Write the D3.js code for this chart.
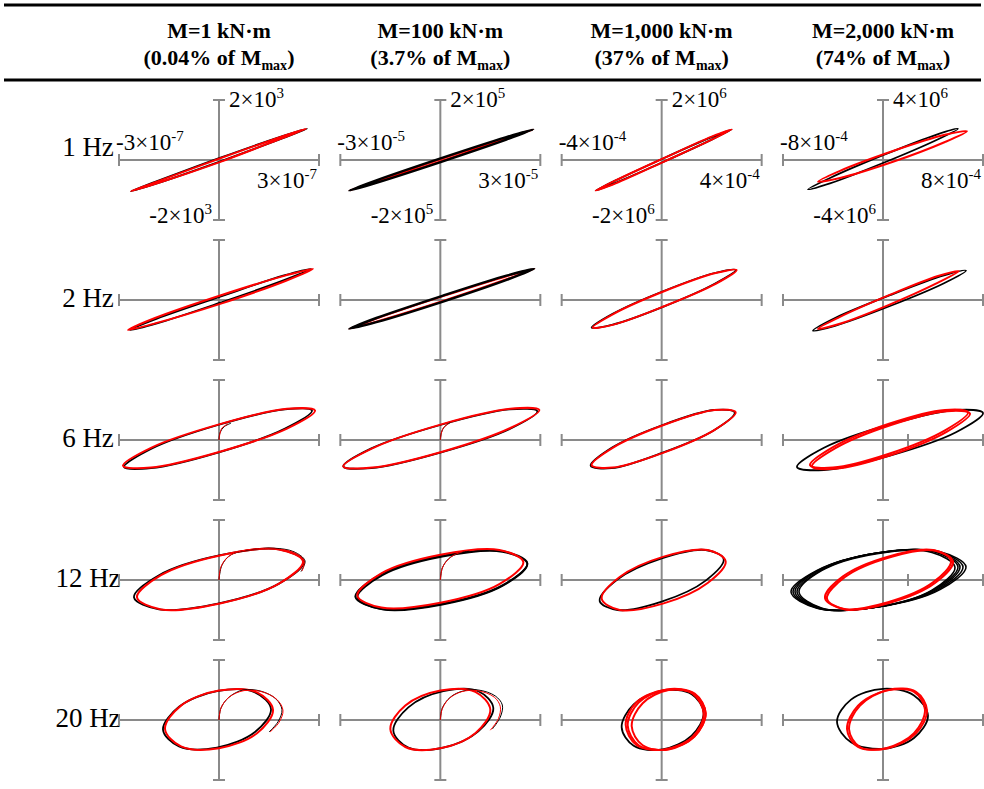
<!DOCTYPE html>
<html>
<head>
<meta charset="utf-8">
<script src="https://cdn.jsdelivr.net/npm/d3@7"></script>
<style>
  body { margin: 0; background: #fff; }
  svg { display: block; }
  text { font-family: "Liberation Serif", "Times New Roman", serif; }
</style>
</head>
<body>
<div id="chart"></div>
<script>
// column / row headers
const moments = ["M=1 kN·m", "M=100 kN·m", "M=1,000 kN·m", "M=2,000 kN·m"];
const shares = ["0.04%", "3.7%", "37%", "74%"];
const freqs = ["1 Hz", "2 Hz", "6 Hz", "12 Hz", "20 Hz"];

// axis limit labels (first row only)
const xTickMant = [3, 3, 4, 8], xTickExp = [-7, -5, -4, -4];
const yTickMant = [2, 2, 2, 4], yTickExp = [3, 5, 6, 6];

// extra tick on the strain axis, [row, col, x/xmax]
const extraTicks = [[2, 3, 0.25], [3, 3, 0.25]];

// loops, in units of the axis limits: [x/xmax, y/ymax]
// blackLoops[row][col] = list of closed loops
const blackLoops = [
  [ // 1 Hz
    [[[0,0.03],[0.62,0.39],[0.88,0.52],[0.62,0.35],[0,-0.03],[-0.62,-0.39],[-0.88,-0.52],[-0.62,-0.35]]],
    [[[0.01,0.03],[0.66,0.38],[0.93,0.51],[0.66,0.34],[0.01,-0.03],[-0.64,-0.38],[-0.91,-0.51],[-0.64,-0.34]]],
    [[[0.02,0.03],[0.5,0.38],[0.7,0.51],[0.5,0.34],[0.02,-0.03],[-0.46,-0.38],[-0.66,-0.51],[-0.46,-0.34]]],
    [[[0,0.08],[0.53,0.42],[0.75,0.52],[0.53,0.33],[0,-0.05],[-0.53,-0.39],[-0.75,-0.49],[-0.53,-0.3]]]
  ],
  [ // 2 Hz
    [[[0.02,0.06],[0.65,0.41],[0.92,0.52],[0.65,0.33],[0.02,-0.04],[-0.62,-0.39],[-0.89,-0.5],[-0.62,-0.31]]],
    [[[0.02,0.07],[0.67,0.41],[0.94,0.52],[0.67,0.34],[0.02,-0.03],[-0.64,-0.37],[-0.91,-0.48],[-0.64,-0.3]]],
    [[[0.02,0.15],[0.53,0.45],[0.74,0.5],[0.53,0.27],[0.02,-0.11],[-0.49,-0.41],[-0.7,-0.46],[-0.49,-0.23]]],
    [[[0.07,0.08],[0.61,0.41],[0.83,0.49],[0.61,0.28],[0.07,-0.1],[-0.48,-0.43],[-0.7,-0.51],[-0.48,-0.3]]]
  ],
  [ // 6 Hz
    [[[-0.01,0.25],[0.66,0.51],[0.93,0.49],[0.66,0.19],[-0.01,-0.21],[-0.68,-0.47],[-0.95,-0.45],[-0.68,-0.15]]],
    [[[0,0.25],[0.69,0.51],[0.97,0.48],[0.69,0.18],[0,-0.21],[-0.69,-0.47],[-0.97,-0.44],[-0.69,-0.14]]],
    [[[0.01,0.25],[0.52,0.5],[0.73,0.46],[0.52,0.16],[0.01,-0.21],[-0.5,-0.47],[-0.71,-0.43],[-0.5,-0.13]]],
    [[[0.07,0.26],[0.73,0.5],[1,0.45],[0.73,0.13],[0.07,-0.26],[-0.59,-0.5],[-0.86,-0.45],[-0.59,-0.13]]]
  ],
  [ // 12 Hz
    [[[0,0.41],[0.6,0.51],[0.85,0.31],[0.6,-0.06],[0,-0.39],[-0.6,-0.49],[-0.85,-0.29],[-0.6,0.08]]],
    [[[0.01,0.4],[0.62,0.48],[0.87,0.28],[0.62,-0.09],[0.01,-0.4],[-0.6,-0.48],[-0.85,-0.28],[-0.6,0.09]],
     [[0.02,0.39],[0.62,0.47],[0.87,0.27],[0.62,-0.1],[0.02,-0.41],[-0.58,-0.49],[-0.83,-0.29],[-0.58,0.08]]],
    [[[0,0.36],[0.44,0.5],[0.62,0.35],[0.44,-0.01],[0,-0.36],[-0.44,-0.5],[-0.62,-0.35],[-0.44,0.01]]],
    [[[-0.05,0.45],[0.57,0.47],[0.83,0.22],[0.57,-0.16],[-0.05,-0.45],[-0.66,-0.47],[-0.92,-0.2],[-0.66,0.16]],
     [[-0.06,0.45],[0.55,0.47],[0.8,0.22],[0.55,-0.16],[-0.06,-0.45],[-0.65,-0.47],[-0.9,-0.2],[-0.65,0.16]],
     [[-0.06,0.45],[0.53,0.47],[0.77,0.22],[0.53,-0.16],[-0.06,-0.45],[-0.64,-0.47],[-0.88,-0.2],[-0.64,0.16]],
     [[-0.06,0.45],[0.51,0.47],[0.75,0.22],[0.51,-0.16],[-0.06,-0.45],[-0.62,-0.47],[-0.86,-0.2],[-0.62,0.16]],
     [[-0.06,0.44],[0.49,0.46],[0.72,0.21],[0.49,-0.17],[-0.06,-0.45],[-0.61,-0.47],[-0.84,-0.2],[-0.61,0.16]]]
  ],
  [ // 20 Hz
    [[[-0.02,0.48],[0.36,0.46],[0.52,0.18],[0.36,-0.2],[-0.02,-0.46],[-0.4,-0.44],[-0.56,-0.16],[-0.4,0.22]]],
    [[[0.03,0.48],[0.38,0.48],[0.53,0.2],[0.38,-0.19],[0.03,-0.46],[-0.32,-0.46],[-0.47,-0.18],[-0.32,0.21]]],
    [[[0.01,0.49],[0.3,0.43],[0.42,0.12],[0.3,-0.26],[0.01,-0.49],[-0.28,-0.43],[-0.4,-0.12],[-0.28,0.26]]],
    [[[0,0.52],[0.31,0.41],[0.45,0.07],[0.31,-0.3],[0,-0.48],[-0.32,-0.37],[-0.46,-0.03],[-0.32,0.34]]]
  ]
];

const redLoops = [
  [ // 1 Hz
    [[[0,0.02],[0.61,0.38],[0.87,0.52],[0.61,0.35],[0,-0.04],[-0.62,-0.39],[-0.88,-0.52],[-0.62,-0.36]]],
    [[[0.01,0.02],[0.66,0.37],[0.93,0.51],[0.66,0.35],[0.01,-0.02],[-0.64,-0.37],[-0.91,-0.51],[-0.64,-0.35]]],
    [[[0.02,0.03],[0.5,0.39],[0.7,0.51],[0.5,0.34],[0.02,-0.03],[-0.46,-0.39],[-0.66,-0.51],[-0.46,-0.34]]],
    [[[0.1,0.15],[0.62,0.42],[0.84,0.48],[0.62,0.3],[0.1,-0.03],[-0.43,-0.3],[-0.65,-0.36],[-0.43,-0.18]]]
  ],
  [ // 2 Hz
    [[[0.02,0.08],[0.67,0.41],[0.94,0.52],[0.67,0.32],[0.02,-0.06],[-0.64,-0.39],[-0.91,-0.5],[-0.64,-0.3]]],
    [[[0.02,0.06],[0.67,0.4],[0.94,0.52],[0.67,0.35],[0.02,-0.02],[-0.64,-0.36],[-0.91,-0.48],[-0.64,-0.31]]],
    [[[0.03,0.15],[0.54,0.45],[0.75,0.5],[0.54,0.27],[0.03,-0.1],[-0.48,-0.41],[-0.69,-0.46],[-0.48,-0.23]]],
    [[[0.06,0.08],[0.55,0.4],[0.76,0.48],[0.55,0.29],[0.06,-0.08],[-0.44,-0.4],[-0.65,-0.48],[-0.44,-0.29]]]
  ],
  [ // 6 Hz
    [[[0,0.26],[0.68,0.52],[0.96,0.49],[0.68,0.19],[0,-0.2],[-0.68,-0.46],[-0.96,-0.43],[-0.68,-0.13]]],
    [[[0.01,0.26],[0.7,0.52],[0.99,0.5],[0.7,0.2],[0.01,-0.2],[-0.68,-0.46],[-0.97,-0.44],[-0.68,-0.14]]],
    [[[0.02,0.25],[0.53,0.5],[0.74,0.46],[0.53,0.17],[0.02,-0.21],[-0.49,-0.46],[-0.7,-0.42],[-0.49,-0.13]]],
    [[[0.08,0.25],[0.64,0.48],[0.87,0.44],[0.64,0.14],[0.08,-0.25],[-0.48,-0.48],[-0.71,-0.44],[-0.48,-0.14]],
     [[0.06,0.27],[0.62,0.5],[0.85,0.46],[0.62,0.16],[0.06,-0.23],[-0.5,-0.46],[-0.73,-0.42],[-0.5,-0.12]]]
  ],
  [ // 12 Hz
    [[[0.01,0.41],[0.6,0.51],[0.84,0.31],[0.6,-0.06],[0.01,-0.39],[-0.58,-0.49],[-0.82,-0.29],[-0.58,0.08]]],
    [[[0,0.42],[0.59,0.5],[0.83,0.3],[0.59,-0.07],[0,-0.38],[-0.59,-0.46],[-0.83,-0.26],[-0.59,0.11]]],
    [[[0.02,0.39],[0.46,0.5],[0.64,0.31],[0.46,-0.05],[0.02,-0.39],[-0.42,-0.5],[-0.6,-0.31],[-0.42,0.05]]],
    [[[0.07,0.38],[0.52,0.49],[0.7,0.31],[0.52,-0.05],[0.07,-0.38],[-0.38,-0.49],[-0.56,-0.31],[-0.38,0.05]],
     [[0.05,0.39],[0.5,0.5],[0.68,0.32],[0.5,-0.04],[0.05,-0.37],[-0.4,-0.48],[-0.58,-0.3],[-0.4,0.06]]]
  ],
  [ // 20 Hz
    [[[0,0.49],[0.38,0.46],[0.54,0.17],[0.38,-0.22],[0,-0.47],[-0.38,-0.44],[-0.54,-0.15],[-0.38,0.24]]],
    [[[0,0.49],[0.35,0.47],[0.5,0.17],[0.35,-0.22],[0,-0.47],[-0.35,-0.45],[-0.5,-0.15],[-0.35,0.24]]],
    [[[0.05,0.51],[0.33,0.44],[0.44,0.11],[0.33,-0.27],[0.05,-0.49],[-0.23,-0.42],[-0.34,-0.09],[-0.23,0.29]],
     [[0.07,0.5],[0.33,0.43],[0.44,0.11],[0.33,-0.27],[0.07,-0.49],[-0.19,-0.42],[-0.3,-0.1],[-0.19,0.28]],
     [[0.03,0.5],[0.31,0.44],[0.42,0.1],[0.31,-0.28],[0.03,-0.49],[-0.25,-0.42],[-0.36,-0.08],[-0.25,0.3]]],
    [[[0.03,0.49],[0.31,0.47],[0.42,0.17],[0.31,-0.22],[0.03,-0.47],[-0.25,-0.45],[-0.36,-0.15],[-0.25,0.24]],
     [[0.05,0.5],[0.33,0.47],[0.44,0.16],[0.33,-0.22],[0.05,-0.47],[-0.23,-0.45],[-0.34,-0.15],[-0.23,0.24]]]
  ]
];

// first-cycle branches starting at the origin: [row, col, points]
const blackStart = [
  [2, 0, [[0,0],[0.01,0.12],[0.05,0.22],[0.12,0.28]]],
  [2, 1, [[0,0],[0.01,0.12],[0.04,0.22],[0.1,0.29]]],
  [3, 0, [[0,0],[0.03,0.25],[0.12,0.42],[0.3,0.5],[0.55,0.53],[0.75,0.47],[0.86,0.32],[0.82,0.14]]],
  [3, 1, [[0,0],[0.02,0.2],[0.08,0.35],[0.17,0.44],[0.29,0.48]]],
  [4, 0, [[0,0],[0.02,0.2],[0.1,0.38],[0.24,0.5],[0.42,0.48],[0.57,0.35],[0.63,0.17],[0.59,-0.03],[0.5,-0.2]]],
  [4, 1, [[0,0],[0.02,0.2],[0.1,0.38],[0.22,0.48],[0.38,0.5],[0.55,0.4],[0.62,0.25],[0.6,0.05],[0.52,-0.15]]]
];
const redStart = [
  [2, 0, [[0,0],[0.01,0.11],[0.03,0.2],[0.09,0.27]]],
  [2, 1, [[0,0],[0.01,0.11],[0.03,0.2],[0.08,0.27]]],
  [3, 0, [[0,0],[0.02,0.22],[0.1,0.4],[0.27,0.5],[0.52,0.52],[0.73,0.47],[0.85,0.33],[0.83,0.15]]],
  [3, 1, [[0,0],[0.02,0.2],[0.07,0.33],[0.14,0.42],[0.22,0.47]]],
  [4, 0, [[0,0],[0.02,0.2],[0.1,0.38],[0.25,0.49],[0.43,0.47],[0.58,0.34],[0.64,0.16],[0.6,-0.04],[0.51,-0.2]]],
  [4, 1, [[0,0],[0.02,0.19],[0.09,0.36],[0.21,0.47],[0.37,0.49],[0.54,0.38],[0.6,0.22],[0.58,0.02],[0.5,-0.17]]]
];

const WIDTH = 984, HEIGHT = 789;
const HALF_W = 100, HALF_H = 60, CAP = 6;
const AXIS = "#8a8a8a";
const SERIF = "Liberation Serif";

const svg = d3.select("#chart")
  .append("svg")
  .attr("width", WIDTH)
  .attr("height", HEIGHT)
  .attr("font-family", SERIF);

const colPos = d3.scalePoint().domain(d3.range(moments.length)).range([219, 883]);
const rowPos = d3.scalePoint().domain(d3.range(freqs.length)).range([160, 720]);

// table rules
[5, 80].forEach(yy => {
  svg.append("line")
    .attr("x1", 4).attr("x2", 981)
    .attr("y1", yy).attr("y2", yy)
    .attr("stroke", "#000")
    .attr("stroke-width", 3);
});

// column headers
moments.forEach((m, c) => {
  svg.append("text")
    .attr("x", colPos(c)).attr("y", 38)
    .attr("text-anchor", "middle")
    .attr("font-family", SERIF)
    .attr("font-weight", "bold")
    .attr("font-size", 22)
    .text(m);

  const t = svg.append("text")
    .attr("x", colPos(c)).attr("y", 65)
    .attr("text-anchor", "middle")
    .attr("font-family", SERIF)
    .attr("font-weight", "bold")
    .attr("font-size", 22);
  t.append("tspan").text(`(${shares[c]} of M`);
  t.append("tspan").attr("dy", 5).attr("font-size", 14).text("max");
  t.append("tspan").attr("dy", -5).text(")");
});

// row labels
freqs.forEach((f, r) => {
  svg.append("text")
    .attr("x", 88)
    .attr("y", r === 0 ? rowPos(r) - 4 : rowPos(r) + 7)
    .attr("text-anchor", "middle")
    .attr("font-family", SERIF)
    .attr("font-size", 27)
    .text(f);
});

function sciLabel(g, x, y, anchor, text, exp) {
  const t = g.append("text")
    .attr("x", x).attr("y", y)
    .attr("text-anchor", anchor)
    .attr("font-family", SERIF)
    .attr("font-size", 23);
  t.append("tspan").text(text);
  t.append("tspan").attr("dy", -9).attr("font-size", 15).text(String(exp));
}

freqs.forEach((f, r) => {
  moments.forEach((m, c) => {
    const cx = colPos(c), cy = rowPos(r);
    const x = d3.scaleLinear().domain([-1, 1]).range([cx - HALF_W, cx + HALF_W]);
    const y = d3.scaleLinear().domain([-1, 1]).range([cy + HALF_H, cy - HALF_H]);
    const g = svg.append("g");

    // cross axes with end caps
    const ax = g.append("g")
      .attr("stroke", AXIS)
      .attr("stroke-width", 2);
    ax.append("line").attr("x1", x(-1)).attr("x2", x(1)).attr("y1", y(0)).attr("y2", y(0));
    ax.append("line").attr("x1", x(0)).attr("x2", x(0)).attr("y1", y(-1)).attr("y2", y(1));
    const xt = [-1, 1].concat(extraTicks.filter(e => e[0] === r && e[1] === c).map(e => e[2]));
    xt.forEach(u => {
      ax.append("line").attr("x1", x(u)).attr("x2", x(u)).attr("y1", y(0) - CAP).attr("y2", y(0) + CAP);
    });
    [-1, 1].forEach(v => {
      ax.append("line").attr("x1", x(0) - CAP).attr("x2", x(0) + CAP).attr("y1", y(v)).attr("y2", y(v));
    });

    if (r === 0) {
      sciLabel(g, x(0) + 10, y(1) + 7, "start", `${yTickMant[c]}×10`, yTickExp[c]);
      sciLabel(g, x(0) - 7, y(-1) + 3, "end", `-${yTickMant[c]}×10`, yTickExp[c]);
      sciLabel(g, x(-1) - 3, y(0) - 10, "start", `-${xTickMant[c]}×10`, xTickExp[c]);
      sciLabel(g, x(1) - 2, y(0) + 28, "end", `${xTickMant[c]}×10`, xTickExp[c]);
    }

    const loopLine = d3.line()
      .x(d => x(d[0])).y(d => y(d[1]))
      .curve(d3.curveCatmullRomClosed.alpha(0.5));
    const openLine = d3.line()
      .x(d => x(d[0])).y(d => y(d[1]))
      .curve(d3.curveCatmullRom.alpha(0.5));

    const blackFirst = !(c === 1 && r < 2);
    const multiBlack = blackLoops[r][c].length > 2;

    function drawBlack() {
      blackLoops[r][c].forEach(p => {
        g.append("path").attr("d", loopLine(p))
          .attr("fill", "none").attr("stroke", "#000")
          .attr("stroke-width", multiBlack ? 1.6 : (blackFirst ? 1.8 : 2.4));
      });
    }
    function drawRed() {
      redLoops[r][c].forEach(p => {
        g.append("path").attr("d", loopLine(p))
          .attr("fill", "none").attr("stroke", "#ff0000")
          .attr("stroke-width", 2);
      });
    }
    if (blackFirst) { drawBlack(); drawRed(); } else { drawRed(); drawBlack(); }

    blackStart.filter(s => s[0] === r && s[1] === c).forEach(s => {
      g.append("path").attr("d", openLine(s[2]))
        .attr("fill", "none").attr("stroke", "#000").attr("stroke-width", 1);
    });
    redStart.filter(s => s[0] === r && s[1] === c).forEach(s => {
      g.append("path").attr("d", openLine(s[2]))
        .attr("fill", "none").attr("stroke", "#ff0000").attr("stroke-width", 1);
    });
  });
});
</script>
</body>
</html>
